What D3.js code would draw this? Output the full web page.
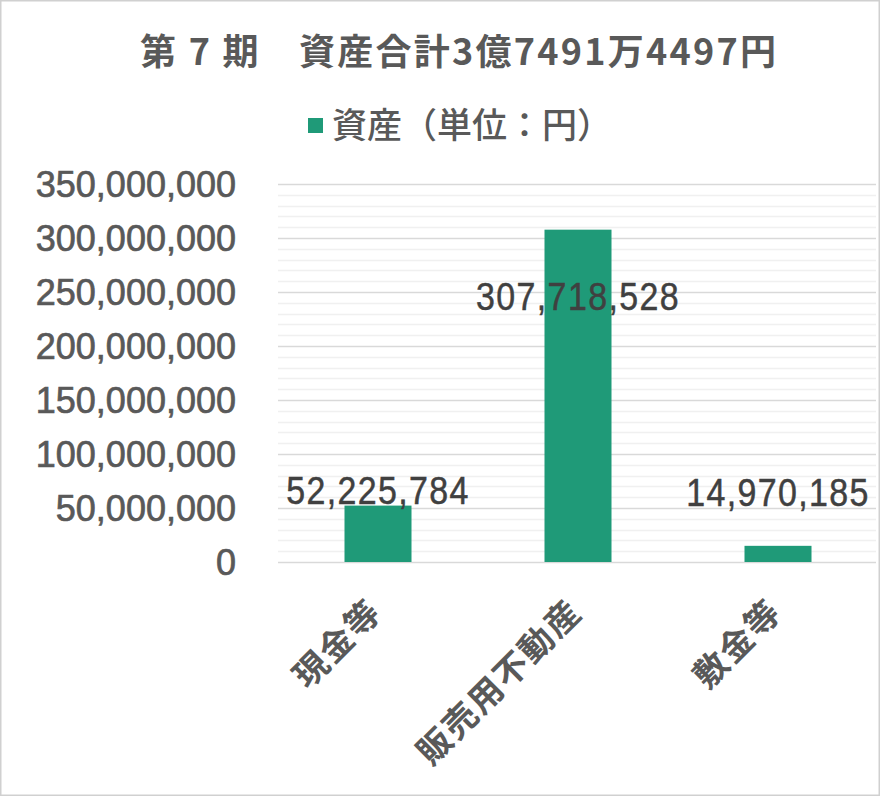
<!DOCTYPE html>
<html>
<head>
<meta charset="utf-8">
<script src="https://cdn.jsdelivr.net/npm/d3@7"></script>
<style>
  html, body { margin: 0; padding: 0; background: #fff; }
  svg { display: block; }
</style>
</head>
<body>
<svg id="chart"></svg>
<script>
const width = 880;
const height = 796;

// data
const categories = ['現金等', '販売用不動産', '敷金等'];
const values = [52225784, 307718528, 14970185];
const seriesName = '資産（単位：円）';
const chartTitle = '第 7 期　資産合計3億7491万4497円';
const yTicks = [0, 50000000, 100000000, 150000000, 200000000, 250000000, 300000000, 350000000];

const barColor = '#1f9a78';
const textGray = '#595959';
const labelGray = '#404040';
const jpFont = '"Noto Sans CJK JP", sans-serif';
const numFont = '"Liberation Sans", Arial, sans-serif';

const margin = { top: 184, right: 2, bottom: 234, left: 278 };

const svg = d3.select('#chart')
  .attr('width', width)
  .attr('height', height);

// outer frame
svg.append('rect')
  .attr('x', 0.75).attr('y', 0.75)
  .attr('width', width - 1.5).attr('height', height - 1.5)
  .attr('fill', '#fff')
  .attr('stroke', '#d0d0d0')
  .attr('stroke-width', 1.5);

const x = d3.scaleBand()
  .domain(categories)
  .range([margin.left, width - margin.right])
  .paddingInner(0.665)
  .paddingOuter(0.3325);

const y = d3.scaleLinear()
  .domain([0, 350000000])
  .range([height - margin.bottom, margin.top]);

// ---------------------------------------------------------------------------
//      gridlines (minor every 10M, major every 50M)
// ---------------------------------------------------------------------------
const minor = d3.range(0, 350000001, 10000000).filter(v => v % 50000000 !== 0);
svg.append('g')
  .selectAll('line')
  .data(minor)
  .enter()
  .append('line')
  .attr('x1', margin.left)
  .attr('x2', width - margin.right - 2)
  .attr('y1', d => Math.round(y(d)) + 0.5)
  .attr('y2', d => Math.round(y(d)) + 0.5)
  .attr('stroke', '#f0f0f0')
  .attr('stroke-width', 1.5);

svg.append('g')
  .selectAll('line')
  .data(yTicks)
  .enter()
  .append('line')
  .attr('x1', margin.left)
  .attr('x2', width - margin.right - 2)
  .attr('y1', d => Math.round(y(d)) + 0.5)
  .attr('y2', d => Math.round(y(d)) + 0.5)
  .attr('stroke', '#d9d9d9')
  .attr('stroke-width', 1.5);

// y axis labels
const yAxis = d3.axisLeft(y)
  .tickValues(yTicks)
  .tickFormat(d3.format(','))
  .tickSize(0)
  .tickPadding(0);

const yG = svg.append('g')
  .attr('transform', `translate(${margin.left - 42},0)`)
  .call(yAxis);
yG.select('.domain').remove();
yG.selectAll('text')
  .attr('font-family', numFont)
  .attr('font-size', 36)
  .attr('fill', textGray)
  .attr('stroke', textGray)
  .attr('stroke-width', 0.7)
  .attr('dy', '0.36em');

// ---------------------------------------------------------------------------
//      bars
// ---------------------------------------------------------------------------
svg.append('g')
  .selectAll('rect')
  .data(values)
  .enter()
  .append('rect')
  .attr('x', (d, i) => x(categories[i]))
  .attr('y', d => y(d))
  .attr('width', x.bandwidth())
  .attr('height', d => y(0) - y(d))
  .attr('fill', barColor);

// data labels (narrow digits: horizontally squeezed)
const maxVal = d3.max(values);
svg.append('g')
  .selectAll('text')
  .data(values)
  .enter()
  .append('text')
  .text(d => d3.format(',')(d))
  .attr('transform', function (d, i) {
    const cx = x(categories[i]) + x.bandwidth() / 2;
    const ty = d === maxVal ? y(d) + 80 : Math.min(y(d), y(yTicks[1])) - 2;
    return `translate(${cx},${ty}) scale(0.87,1)`;
  })
  .attr('text-anchor', 'middle')
  .attr('font-family', numFont)
  .attr('font-size', 39)
  .attr('letter-spacing', 1.6)
  .attr('fill', labelGray)
  .attr('stroke', labelGray)
  .attr('stroke-width', 0.5);

// x axis labels (rotated)
svg.append('g')
  .selectAll('text')
  .data(categories)
  .enter()
  .append('text')
  .text(d => d)
  .attr('transform', d => `translate(${x(d) + x.bandwidth() / 2 + 6},${y(0) + 52}) rotate(-45)`)
  .attr('text-anchor', 'end')
  .attr('font-family', jpFont)
  .attr('font-weight', 700)
  .attr('font-size', 34)
  .attr('letter-spacing', 2)
  .attr('fill', textGray);

// ---------------------------------------------------------------------------
//      title & legend
// ---------------------------------------------------------------------------
svg.append('text')
  .text(chartTitle)
  .attr('x', 140)
  .attr('y', 65)
  .attr('textLength', 636)
  .attr('lengthAdjust', 'spacing')
  .attr('font-family', jpFont)
  .attr('font-weight', 700)
  .attr('font-size', 36)
  .attr('fill', textGray);

const legend = svg.append('g').attr('transform', 'translate(308,138)');
legend.append('rect')
  .attr('x', 0).attr('y', -20)
  .attr('width', 15).attr('height', 15)
  .attr('fill', barColor);
legend.append('text')
  .text(seriesName)
  .attr('x', 24)
  .attr('y', 0)
  .attr('font-family', jpFont)
  .attr('font-weight', 500)
  .attr('font-size', 35)
  .attr('fill', textGray);
</script>
</body>
</html>
